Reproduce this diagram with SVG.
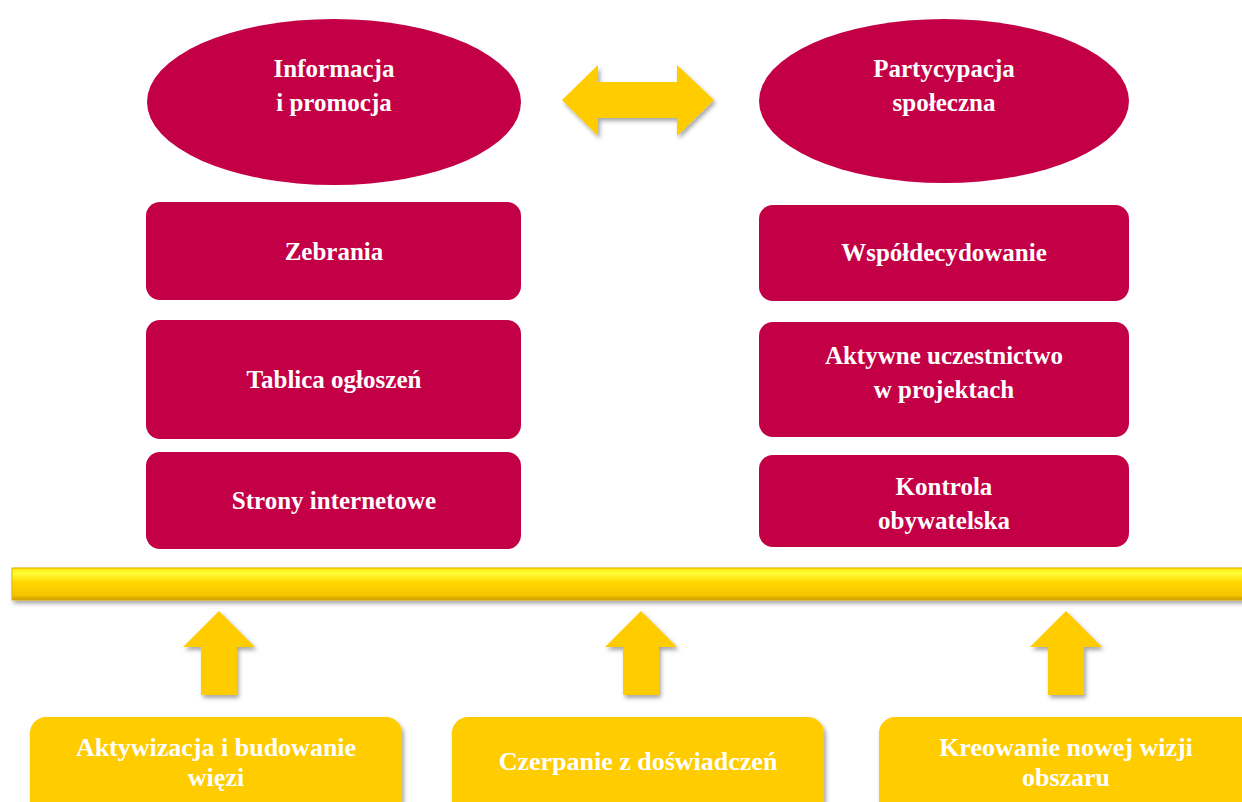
<svg xmlns="http://www.w3.org/2000/svg" width="1242" height="802" viewBox="0 0 1242 802">
<defs>
<style>
.red{fill:#C30045;}
.yel{fill:#FFCC00;}
.t{font-family:"Liberation Serif","Times New Roman",serif;font-weight:bold;font-size:25px;fill:#FFFFFF;text-anchor:middle;}
.tb{font-family:"Liberation Serif","Times New Roman",serif;font-weight:bold;font-size:26px;fill:#FFFFFF;text-anchor:middle;}
</style>
<linearGradient id="barg" x1="0" y1="0" x2="0" y2="1">
<stop offset="0" stop-color="#FFE000"/>
<stop offset="0.15" stop-color="#FFFF3A"/>
<stop offset="0.45" stop-color="#FFD700"/>
<stop offset="0.85" stop-color="#F5C400"/>
<stop offset="1" stop-color="#C89A00"/>
</linearGradient>
<filter id="sh" x="-10%" y="-10%" width="120%" height="140%">
<feDropShadow dx="2" dy="3" stdDeviation="2" flood-color="#000" flood-opacity="0.35"/>
</filter>
</defs>
<rect width="1242" height="802" fill="#FFFFFF"/>

<g id="info">
<ellipse class="red" cx="334" cy="102" rx="187" ry="83"/>
<text class="t" x="334" y="77">Informacja</text>
<text class="t" x="334" y="111">i promocja</text>
</g>
<g id="partycypacja">
<ellipse class="red" cx="944" cy="101" rx="185" ry="82"/>
<text class="t" x="944" y="77">Partycypacja</text>
<text class="t" x="944" y="111">społeczna</text>
</g>

<g id="zebrania">
<rect class="red" x="146" y="202" width="375" height="98" rx="14"/>
<text class="t" x="334" y="260">Zebrania</text>
</g>
<g id="tablica">
<rect class="red" x="146" y="320" width="375" height="119" rx="14"/>
<text class="t" x="334" y="388">Tablica ogłoszeń</text>
</g>
<g id="strony">
<rect class="red" x="146" y="452" width="375" height="97" rx="14"/>
<text class="t" x="334" y="509">Strony internetowe</text>
</g>

<g id="wspol">
<rect class="red" x="759" y="205" width="370" height="96" rx="14"/>
<text class="t" x="944" y="261">Współdecydowanie</text>
</g>
<g id="aktywne">
<rect class="red" x="759" y="322" width="370" height="115" rx="14"/>
<text class="t" x="944" y="364">Aktywne uczestnictwo</text>
<text class="t" x="944" y="398">w projektach</text>
</g>
<g id="kontrola">
<rect class="red" x="759" y="455" width="370" height="92" rx="14"/>
<text class="t" x="944" y="495">Kontrola</text>
<text class="t" x="944" y="529">obywatelska</text>
</g>

<g id="bar">
<rect x="12" y="568" width="1240" height="32" fill="url(#barg)" filter="url(#sh)" stroke="#E0B000" stroke-width="1"/>
</g>

<g id="connectors">
<polygon class="yel" filter="url(#sh)" points="562,100 598,65 598,82 677,82 677,65 714,100 677,136 677,118 598,118 598,136"/>
<polygon class="yel" filter="url(#sh)" points="219,611 255,647 237,647 237,695 201,695 201,647 183,647"/>
<polygon class="yel" filter="url(#sh)" points="641,611 677,647 659,647 659,695 623,695 623,647 605,647"/>
<polygon class="yel" filter="url(#sh)" points="1066,611 1102,647 1084,647 1084,695 1048,695 1048,647 1030,647"/>
</g>

<g id="aktywizacja">
<rect class="yel" x="30" y="717" width="372" height="100" rx="16" filter="url(#sh)"/>
<text class="tb" x="216" y="756">Aktywizacja i budowanie</text>
<text class="tb" x="216" y="786">więzi</text>
</g>
<g id="czerpanie">
<rect class="yel" x="452" y="717" width="372" height="100" rx="16" filter="url(#sh)"/>
<text class="tb" x="638" y="770">Czerpanie z doświadczeń</text>
</g>
<g id="kreowanie">
<rect class="yel" x="879" y="717" width="380" height="100" rx="16" filter="url(#sh)"/>
<text class="tb" x="1066" y="756">Kreowanie nowej wizji</text>
<text class="tb" x="1066" y="786">obszaru</text>
</g>
</svg>
